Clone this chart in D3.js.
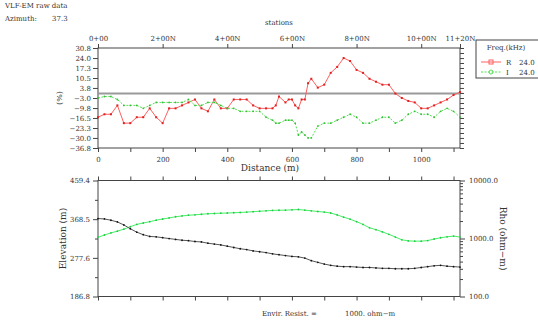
<!DOCTYPE html>
<html>
<head>
<meta charset="utf-8">
<script src="https://cdn.jsdelivr.net/npm/d3@7"></script>
<style>
  html, body { margin: 0; padding: 0; background: #fff; }
  svg { display: block; font-family: "DejaVu Serif", serif; }
  svg text { fill: #333; }
  .axis path, .axis line { stroke: #444; }
  .axis text { fill: #333; font-size: 7px; font-family: "DejaVu Serif", serif; }
</style>
</head>
<body>
<div id="chart"></div>
<script>
// station labels along the top of the upper plot
const stationPos = [0, 200, 400, 600, 800, 1000, 1120];
const stationLabels = ["0+00", "2+00N", "4+00N", "6+00N", "8+00N", "10+00N", "11+20N"];

// VLF-EM raw data, distance in m, values in %
const distVlf = [0, 20, 40, 60, 80, 100, 120, 140, 160, 180, 200, 220, 240, 260, 280, 300, 320, 340, 360, 380,
  400, 420, 440, 460, 480, 500, 520, 540, 550, 560, 580, 590, 600, 610, 620, 630, 640, 650, 660, 680,
  700, 720, 740, 760, 780, 800, 820, 840, 860, 880, 900, 920, 940, 960, 980, 1000, 1020, 1040, 1060, 1080, 1100, 1120];
const realPct = [-16, -14, -14, -8, -20, -20, -16, -16, -10, -16, -20, -10, -10, -8, -6, -4, -10, -12, -4, -10,
  -10, -4, -4, -4, -8, -10, -10, -10, -8, -2, -6, -4, -4, -8, -10, -4, -4, 7, 10, 4,
  6, 14, 18, 24, 22, 16, 14, 10, 8, 6, 6, 0, -3, -5, -6, -10, -10, -8, -6, -4, -1, 1];
const imagPct = [-3, -2, -2, -4, -8, -8, -8, -10, -8, -6, -6, -6, -6, -6, -4, -8, -8, -6, -6, -8,
  -10, -10, -12, -12, -12, -12, -16, -18, -20, -20, -18, -18, -18, -20, -28, -26, -28, -30, -30, -22,
  -20, -20, -18, -16, -14, -16, -20, -20, -18, -16, -16, -20, -18, -14, -12, -14, -14, -16, -12, -10, -12, -16];
const pctTicks = [30.8, 24.0, 17.3, 10.5, 3.8, -3.0, -9.8, -16.5, -23.3, -30.0, -36.8];

// topography and resistivity, every 20 m
const distTopo = [0, 20, 40, 60, 80, 100, 120, 140, 160, 180, 200, 220, 240, 260, 280, 300, 320, 340, 360, 380,
  400, 420, 440, 460, 480, 500, 520, 540, 560, 580, 600, 620, 640, 660, 680, 700, 720, 740, 760, 780,
  800, 820, 840, 860, 880, 900, 920, 940, 960, 980, 1000, 1020, 1040, 1060, 1080, 1100, 1120];
const elevation = [370, 369, 366, 362, 355, 346, 338, 332, 328, 327, 325, 323, 321, 319, 318, 316, 315, 312, 310, 308,
  305, 302, 299, 297, 294, 292, 290, 287, 285, 283, 281, 280, 277, 271, 267, 263, 260, 258, 257, 257,
  256, 255, 255, 254, 253, 253, 252, 252, 252, 253, 255, 257, 259, 260, 258, 257, 256];
const rho = [1050, 1150, 1250, 1340, 1450, 1600, 1750, 1850, 1950, 2070, 2170, 2260, 2370, 2450, 2520, 2560, 2620, 2670, 2700, 2730,
  2750, 2780, 2810, 2850, 2900, 2950, 3000, 3050, 3070, 3080, 3120, 3160, 3080, 3000, 2920, 2850, 2750, 2550, 2330, 2150,
  1950, 1750, 1530, 1420, 1300, 1180, 1060, 950, 910, 900, 900, 920, 980, 1030, 1070, 1100, 1060];
const elevTicks = [186.8, 277.6, 368.5, 459.4];
const rhoTicks = [100, 1000, 10000];

const legendItems = [
  { code: "R", freq: "24.0", color: "#ff6060", dash: null },
  { code: "I", freq: "24.0", color: "#55e055", dash: "2,1.5" }
];

const W = 538, H = 322;
const svg = d3.select("#chart").append("svg")
  .attr("width", W)
  .attr("height", H)
  .attr("viewBox", "0 0 " + W + " " + H);

const fmt1 = d3.format(".1f");

// ---- header text
svg.append("text").attr("x", 5).attr("y", 8).style("font-size", "7px").text("VLF-EM raw data");
svg.append("text").attr("x", 5).attr("y", 21).style("font-size", "7px").text("Azimuth:");
svg.append("text").attr("x", 52).attr("y", 21).style("font-size", "7px").text("37.3");
svg.append("text").attr("x", 279).attr("y", 25).attr("text-anchor", "middle").style("font-size", "7px").text("stations");

// ---- shared x scale
const x = d3.scaleLinear().domain([0, 1120]).range([98, 460]);

// ---- upper plot
const yPct = d3.scaleLinear().domain([-36.8, 30.8]).range([148, 48]);

svg.append("rect")
  .attr("x", x(0)).attr("y", yPct(30.8))
  .attr("width", x(1120) - x(0)).attr("height", yPct(-36.8) - yPct(30.8))
  .attr("fill", "none").attr("stroke", "#444").attr("stroke-width", 1);

// zero line
svg.append("line")
  .attr("x1", x(0)).attr("x2", x(1120))
  .attr("y1", yPct(0)).attr("y2", yPct(0))
  .attr("stroke", "#9a9a9a").attr("stroke-width", 2);

svg.append("g").attr("class", "axis")
  .attr("transform", "translate(" + x(0) + ",0)")
  .call(d3.axisLeft(yPct).tickValues(pctTicks).tickSize(5).tickPadding(2).tickFormat(fmt1))
  .call(g => g.select(".domain").remove());

const halfTicks = [];
pctTicks.forEach((t, i) => {
  halfTicks.push(t);
  if (i < pctTicks.length - 1) halfTicks.push((t + pctTicks[i + 1]) / 2);
});
svg.append("g").attr("class", "axis")
  .attr("transform", "translate(" + x(1120) + ",0)")
  .call(d3.axisRight(yPct).tickValues(halfTicks).tickSize(4).tickFormat(""))
  .call(g => g.select(".domain").remove());

svg.append("g").attr("class", "axis")
  .attr("transform", "translate(0," + yPct(-36.8) + ")")
  .call(d3.axisBottom(x).tickValues(d3.range(0, 1101, 100)).tickSize(4).tickPadding(5)
    .tickFormat(d => d % 200 === 0 ? d : ""))
  .call(g => g.select(".domain").remove());

svg.append("g").attr("class", "axis")
  .attr("transform", "translate(0," + yPct(30.8) + ")")
  .call(d3.axisTop(x).tickValues(stationPos).tickSize(4).tickPadding(3)
    .tickFormat((d, i) => stationLabels[i]))
  .call(g => g.select(".domain").remove());

svg.append("text")
  .attr("transform", "translate(62,98) rotate(-90)")
  .attr("text-anchor", "middle").style("font-size", "8px").text("(%)");

svg.append("text")
  .attr("x", 270).attr("y", 171).attr("text-anchor", "middle")
  .style("font-size", "9px").text("Distance (m)");

const vlfLine = d3.line()
  .x((d, i) => x(distVlf[i]))
  .y(d => yPct(d));

svg.append("path").datum(realPct)
  .attr("fill", "none").attr("stroke", legendItems[0].color).attr("stroke-width", 1)
  .attr("d", vlfLine);
svg.append("g").selectAll("rect").data(realPct).join("rect")
  .attr("x", (d, i) => x(distVlf[i]) - 1).attr("y", d => yPct(d) - 1)
  .attr("width", 2).attr("height", 2).attr("fill", "#e02020");

svg.append("path").datum(imagPct)
  .attr("fill", "none").attr("stroke", legendItems[1].color).attr("stroke-width", 1)
  .attr("stroke-dasharray", legendItems[1].dash)
  .attr("d", vlfLine);
svg.append("g").selectAll("circle").data(imagPct).join("circle")
  .attr("cx", (d, i) => x(distVlf[i])).attr("cy", d => yPct(d))
  .attr("r", 0.9).attr("fill", "#33c033");

// ---- legend
const lg = svg.append("g");
lg.append("rect").attr("x", 476).attr("y", 40).attr("width", 70).attr("height", 38)
  .attr("fill", "#fff").attr("stroke", "#444");
lg.append("text").attr("x", 506).attr("y", 50).attr("text-anchor", "middle")
  .style("font-size", "7px").text("Freq.(kHz)");
legendItems.forEach((it, i) => {
  const yy = 62 + i * 10;
  lg.append("line").attr("x1", 481).attr("x2", 501).attr("y1", yy).attr("y2", yy)
    .attr("stroke", it.color).attr("stroke-dasharray", it.dash);
  if (i === 0) {
    lg.append("rect").attr("x", 489).attr("y", yy - 2).attr("width", 4).attr("height", 4)
      .attr("fill", "none").attr("stroke", it.color);
  } else {
    lg.append("circle").attr("cx", 491).attr("cy", yy).attr("r", 2)
      .attr("fill", "none").attr("stroke", it.color);
  }
  lg.append("text").attr("x", 506).attr("y", yy + 2.5).style("font-size", "7px").text(it.code);
  lg.append("text").attr("x", 519).attr("y", yy + 2.5).style("font-size", "7px").text(it.freq);
});

// ---- lower plot
const yElev = d3.scaleLinear().domain([186.8, 459.4]).range([296.5, 180.5]);
const yRho = d3.scaleLog().domain([100, 10000]).range([296.5, 180.5]);

svg.append("rect")
  .attr("x", x(0)).attr("y", yElev(459.4))
  .attr("width", x(1120) - x(0)).attr("height", yElev(186.8) - yElev(459.4))
  .attr("fill", "none").attr("stroke", "#444").attr("stroke-width", 1);

svg.append("g").attr("class", "axis")
  .attr("transform", "translate(" + x(0) + ",0)")
  .call(d3.axisLeft(yElev).tickValues(elevTicks).tickSize(5).tickPadding(3).tickFormat(fmt1))
  .call(g => g.select(".domain").remove());
const elevMinor = elevTicks.slice(0, -1).map((t, i) => (t + elevTicks[i + 1]) / 2);
svg.append("g").attr("class", "axis")
  .attr("transform", "translate(" + x(0) + ",0)")
  .call(d3.axisLeft(yElev).tickValues(elevMinor).tickSize(3).tickFormat(""))
  .call(g => g.select(".domain").remove());

svg.append("g").attr("class", "axis")
  .attr("transform", "translate(" + x(1120) + ",0)")
  .call(d3.axisRight(yRho).tickValues(rhoTicks).tickSize(5).tickPadding(4).tickFormat(fmt1))
  .call(g => g.select(".domain").remove());
const rhoMinor = [];
[100, 1000].forEach(dec => { for (let k = 2; k <= 9; k++) rhoMinor.push(dec * k); });
svg.append("g").attr("class", "axis")
  .attr("transform", "translate(" + x(1120) + ",0)")
  .call(d3.axisRight(yRho).tickValues(rhoMinor).tickSize(3).tickFormat(""))
  .call(g => g.select(".domain").remove());

svg.append("g").attr("class", "axis")
  .attr("transform", "translate(0," + yElev(186.8) + ")")
  .call(d3.axisBottom(x).tickValues(d3.range(0, 1101, 100)).tickSize(4).tickFormat(""))
  .call(g => g.select(".domain").remove());
svg.append("g").attr("class", "axis")
  .attr("transform", "translate(0," + yElev(459.4) + ")")
  .call(d3.axisTop(x).tickValues(d3.range(0, 1101, 100)).tickSize(4).tickFormat(""))
  .call(g => g.select(".domain").remove());

svg.append("text")
  .attr("transform", "translate(66," + yElev(323) + ") rotate(-90)")
  .attr("text-anchor", "middle").style("font-size", "9px").text("Elevation (m)");
svg.append("text")
  .attr("transform", "translate(500," + yElev(323) + ") rotate(90)")
  .attr("text-anchor", "middle").style("font-size", "9px").text("Rho (ohm\u2212m)");

svg.append("path").datum(rho)
  .attr("fill", "none").attr("stroke", "#44f066").attr("stroke-width", 1)
  .attr("d", d3.line().x((d, i) => x(distTopo[i])).y(d => yRho(d)));
svg.append("g").selectAll("circle").data(rho).join("circle")
  .attr("cx", (d, i) => x(distTopo[i])).attr("cy", d => yRho(d))
  .attr("r", 0.9).attr("fill", "#22cc44");

svg.append("path").datum(elevation)
  .attr("fill", "none").attr("stroke", "#555").attr("stroke-width", 1)
  .attr("d", d3.line().x((d, i) => x(distTopo[i])).y(d => yElev(d)));
svg.append("g").selectAll("circle").data(elevation).join("circle")
  .attr("cx", (d, i) => x(distTopo[i])).attr("cy", d => yElev(d))
  .attr("r", 0.9).attr("fill", "#111");

svg.append("text").attr("x", 262).attr("y", 316).style("font-size", "7px").text("Envir. Resist. =");
svg.append("text").attr("x", 345).attr("y", 316).style("font-size", "7px").text("1000. ohm\u2212m");
</script>
</body>
</html>
